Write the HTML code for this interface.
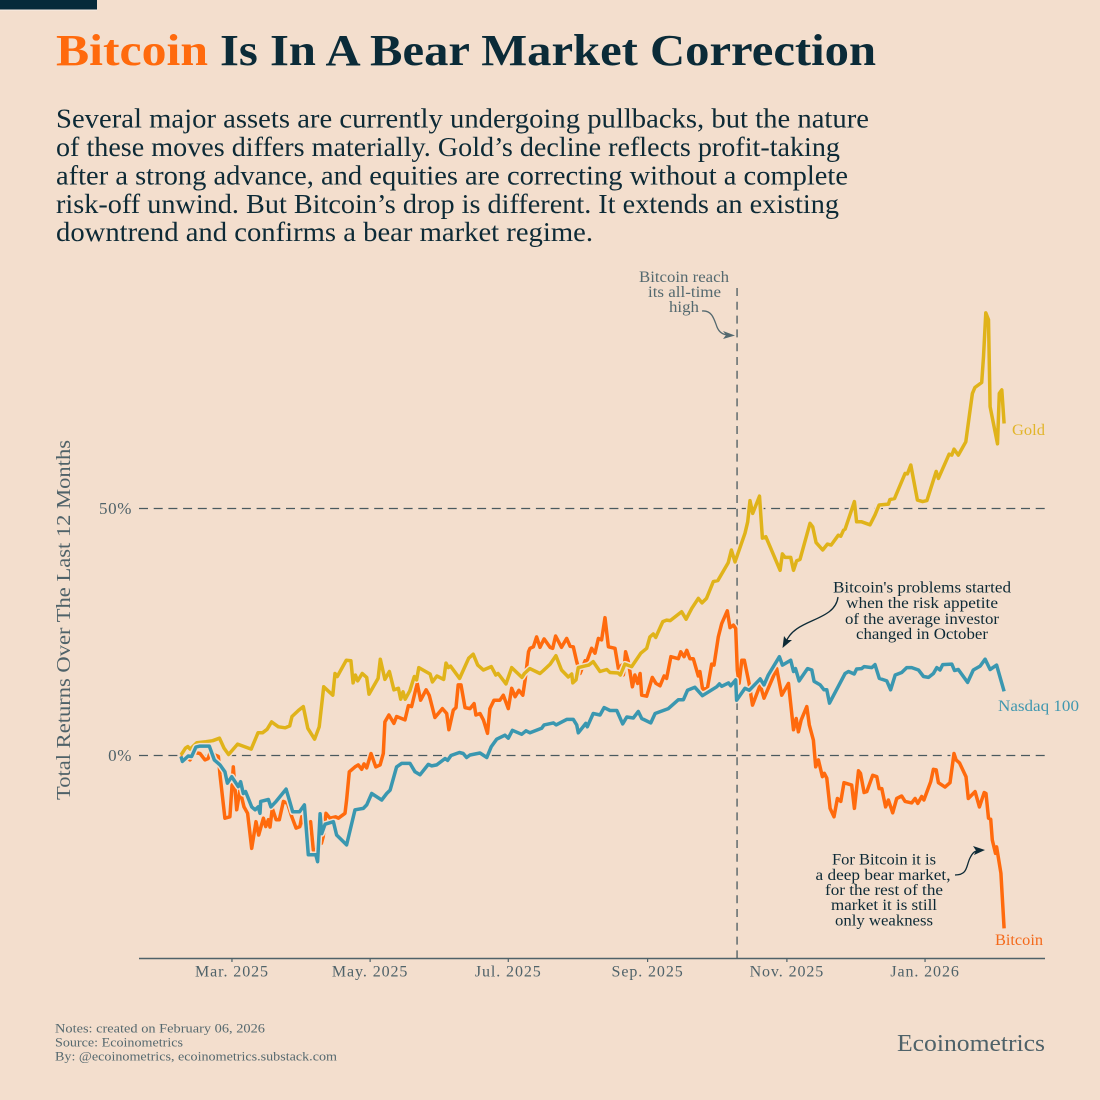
<!DOCTYPE html>
<html lang="en">
<head>
<meta charset="utf-8">
<title>Bitcoin Is In A Bear Market Correction</title>
<style>
html,body{margin:0;padding:0;background:#f3decd;}
svg{display:block;}
text{font-family:"Liberation Serif","DejaVu Serif",serif;}
</style>
</head>
<body>
<svg id="chart" xmlns="http://www.w3.org/2000/svg" width="1100" height="1100" viewBox="0 0 1100 1100">
  <rect x="0" y="0" width="1100" height="1100" fill="#f3decd"/>
  <rect x="0" y="0" width="97" height="9.5" fill="#062a3a"/>
  <rect x="0" y="9.5" width="97" height="1" fill="#f9efe5"/>

  <g font-size="44" font-weight="700">
    <text x="56" y="65" fill="#ff6a0d" textLength="152" lengthAdjust="spacingAndGlyphs">Bitcoin</text>
    <text x="220" y="65" fill="#0b2b38" textLength="656" lengthAdjust="spacingAndGlyphs">Is In A Bear Market Correction</text>
  </g>

  <g font-size="27" fill="#0d2a36">
    <text x="56" y="127.5" textLength="813" lengthAdjust="spacingAndGlyphs">Several major assets are currently undergoing pullbacks, but the nature</text>
    <text x="56" y="156" textLength="784" lengthAdjust="spacingAndGlyphs">of these moves differs materially. Gold’s decline reflects profit-taking</text>
    <text x="56" y="184.5" textLength="792" lengthAdjust="spacingAndGlyphs">after a strong advance, and equities are correcting without a complete</text>
    <text x="56" y="212.8" textLength="783" lengthAdjust="spacingAndGlyphs">risk-off unwind. But Bitcoin’s drop is different. It extends an existing</text>
    <text x="56" y="241" textLength="537" lengthAdjust="spacingAndGlyphs">downtrend and confirms a bear market regime.</text>
  </g>

  <text transform="translate(70,800) rotate(-90)" font-size="20" fill="#4f6269" textLength="360" lengthAdjust="spacingAndGlyphs">Total Returns Over The Last 12 Months</text>

  <g id="grid-layer"></g>
  <g id="axis-layer"></g>
  <g id="y-label-layer"></g>
  <g id="series-layer"></g>

  <g font-size="15.5">
    <text x="1012" y="435" fill="#e2b52a" textLength="33" lengthAdjust="spacingAndGlyphs">Gold</text>
    <text x="998" y="711" fill="#3f97af" textLength="81" lengthAdjust="spacingAndGlyphs">Nasdaq 100</text>
    <text x="995" y="945" fill="#f4691a" textLength="48" lengthAdjust="spacingAndGlyphs">Bitcoin</text>
  </g>

  <g font-size="15.5" fill="#54696f">
    <text x="639" y="282" textLength="90" lengthAdjust="spacingAndGlyphs">Bitcoin reach</text>
    <text x="648" y="297" textLength="73" lengthAdjust="spacingAndGlyphs">its all-time</text>
    <text x="669" y="312" textLength="30" lengthAdjust="spacingAndGlyphs">high</text>
    <path d="M702,311 C712,310 714,319 717,327 C719,332 723,335 729,335" fill="none" stroke="#54696f" stroke-width="1.3"/>
    <path d="M735,335.5 L723,331 L726,335 L723,339 Z" fill="#54696f"/>
  </g>

  <g font-size="15.5" fill="#0d2a36" text-anchor="middle">
    <text x="922" y="592.7" textLength="178" lengthAdjust="spacingAndGlyphs">Bitcoin's problems started</text>
    <text x="922" y="608" textLength="152" lengthAdjust="spacingAndGlyphs">when the risk appetite</text>
    <text x="922" y="624" textLength="154" lengthAdjust="spacingAndGlyphs">of the average investor</text>
    <text x="922" y="639" textLength="132" lengthAdjust="spacingAndGlyphs">changed in October</text>
    <path d="M838,597 C835,622 795,618 786,642" fill="none" stroke="#0d2a36" stroke-width="1.3"/>
    <path d="M782.5,648 L784,636 L787,640 L792,640 Z" fill="#0d2a36"/>
  </g>

  <g font-size="15.5" fill="#0d2a36" text-anchor="middle">
    <text x="884" y="864.3" textLength="104" lengthAdjust="spacingAndGlyphs">For Bitcoin it is</text>
    <text x="883" y="880" textLength="135" lengthAdjust="spacingAndGlyphs">a deep bear market,</text>
    <text x="884" y="895" textLength="118" lengthAdjust="spacingAndGlyphs">for the rest of the</text>
    <text x="884" y="910" textLength="106" lengthAdjust="spacingAndGlyphs">market it is still</text>
    <text x="884" y="925.7" textLength="98" lengthAdjust="spacingAndGlyphs">only weakness</text>
    <path d="M955,875 C968,875 966,866 970,858 C973,852 975,851 979,850.5" fill="none" stroke="#0d2a36" stroke-width="1.3"/>
    <path d="M985,850 L973,846 L976,850.5 L974,855 Z" fill="#0d2a36"/>
  </g>

  <g font-size="12.5" fill="#56696f">
    <text x="55" y="1032.7" textLength="210" lengthAdjust="spacingAndGlyphs">Notes: created on February 06, 2026</text>
    <text x="55" y="1046.7" textLength="128" lengthAdjust="spacingAndGlyphs">Source: Ecoinometrics</text>
    <text x="55" y="1060.7" textLength="282" lengthAdjust="spacingAndGlyphs">By: @ecoinometrics, ecoinometrics.substack.com</text>
  </g>
  <text x="897" y="1051" font-size="24" fill="#4f6269" textLength="148" lengthAdjust="spacingAndGlyphs">Ecoinometrics</text>
</svg>

<script>
// Days since Feb 6, 2025 for each traced vertex, and total 12-month return (%) at that vertex.
const goldDays = [
0,2,3,4,7,11,14,17,19,21,
25,31,34,36,38,40,43,46,48,49,
52,54,56,59,61,63,67,68,69,73,
75,76,77,78,80,82,83,87,88,90,
92,94,96,97,98,99,101,103,104,105,
108,110,111,113,116,117,118,119,123,127,
129,131,133.5,137,139,140,143.5,146,150.5,151.6,
154,158.5,160,163,165.5,168,171,172.5,173,174.4,
175.4,180,182,185,188,189.4,193,194,196,199,
203,205.6,207,208.5,209.6,212.7,214.4,216,221,223,
225.5,228.4,230,232,235,237,241.6,243,244.6,249,
250.2,251.2,252.4,255.4,256.7,258.2,264.5,265.5,266.7,269.2,
270.4,271.8,273.3,277.7,278.9,280.4,283.3,285.4,287,290.2,
291.3,292.5,293.2,297.3,298.3,300.5,304.2,306.4,308.2,312.3,
313,315,319.7,320.7,322.2,325.1,327.4,329.3,333.4,334.4,
339.1,340.3,341.3,343.2,346.5,348.1,349.4,350.5,353.5,354.3,
355.3,356.5,357.2,360.5,361.3,362.4,363.4];
const goldValues = [
0.1,1.5,1.8,1.3,2.6,2.8,3.0,3.5,1.5,0.2,
2.3,1.3,4.6,4.6,5.3,6.8,5.8,5.6,6.0,7.9,
9.2,9.9,5.5,3.3,5.8,13.9,12.2,16.6,16.0,19.3,
19.2,14.7,16.3,15.1,16.6,15.8,12.4,15.6,19.5,15.4,
17.0,13.3,13.6,11.4,12.9,11.4,13.1,16.0,15.3,17.8,
17.0,16.5,14.9,16.1,15.4,18.7,17.8,18.1,15.6,19.7,
20.5,18.3,17.3,18.0,16.3,16.6,14.5,17.8,15.8,16.6,
17.6,16.6,17.2,18.5,20.2,17.3,15.9,16.5,14.7,15.3,
17.8,18.3,19.0,17.0,17.4,16.8,16.7,16.3,18.5,18.0,
20.7,21.7,24.0,24.6,23.9,27.1,27.4,27.3,29.1,27.6,
29.8,31.8,30.9,31.8,35.2,35.4,39.0,41.6,39.2,45.0,
47.3,51.6,49.0,52.5,44,44.3,37.5,40.8,40.1,40.1,
37.5,39.4,39.7,47,46.3,43.1,41.6,42.8,42.6,44.6,
44.4,45.6,45.8,51.4,47.3,47.3,46.7,48.7,50.7,50.9,
51.8,52,57.1,57,58.8,51.7,51.4,51.6,57.5,56.1,
61,60.8,62,60.8,63.5,68.9,73.3,74.5,75.5,80.7,
89.6,88.2,70.6,63.1,73.3,74,67.2];

const bitcoinDays = [
0,2,4,6,8.4,10.6,12,13,15,16.5,
17.2,19.4,21.6,23.1,24.6,26,27.8,29.4,31.2,33.1,
34.3,36.4,37.4,38.6,39.3,40.3,42,43.4,45.2,47,
48.9,50.8,52.5,53.3,54.7,57.2,58.4,60,61,62,
62.8,64,65.8,68.3,69.5,72.4,73.1,74.3,76.8,78.3,
79.8,80.8,82,83.9,86,87.9,89.3,90,91.8,94,
95.2,98.9,100.4,101.8,104.3,105.8,108.2,109.6,112.1,115.4,
117.3,118.3,120.2,121.4,122.4,123.6,125.4,127.6,129.4,130.2,
132,133.5,135.3,136.4,138.2,140.8,142.3,144.5,146,147.5,
149.2,150.9,151.9,153.4,154.1,155.6,157,158.5,160.3,162.9,
164.1,165.4,168,170.3,171.8,173.2,174.7,176.2,178.4,179.1,
181.3,182.8,184.3,185.7,187.2,188.7,191.6,193.1,194.6,195.3,
196.3,197.5,199.3,200.4,201.6,202.7,203.4,205.6,208.1,209.7,
211.5,213.3,214.4,216.3,219.6,220.6,222.1,223.3,224.7,226.2,
228.4,229.1,230.3,232.4,234.3,235.3,237.2,238.7,241.2,242.4,
243.9,244.9,245.6,246.4,247.6,248.7,250.8,252.3,255.7,257.4,
261.5,263,265.2,268.2,270.4,271.6,272.6,273.8,276.3,277.4,
279.2,280.2,281.4,283.2,284,285.1,286.6,288.3,289.8,291.3,
292.7,296.1,297.3,299.1,300,301.6,302.8,305.4,307.2,308.2,
309.4,311.1,312.3,314.2,316,318.2,319.7,322.6,324.1,325.3,
327,328,331,332.2,333.4,334.4,337.3,339.5,341.3,342.2,
343.7,346.6,347.6,350.6,352.5,354.6,355.4,356.5,357.5,358.2,
359.6,360.1,362,363.4];
const bitcoinValues = [
0.1,-0.4,-0.9,0.6,0.4,-0.9,-0.6,0.8,0.1,-0.2,
-3.9,-12.7,-12.4,-2.3,-11,-7,-10.4,-11.7,-18.8,-13.4,
-16.1,-12.7,-14.4,-13,-14.5,-10.7,-13,-13,-9.3,-9.7,
-12.4,-14.7,-14.4,-12.4,-14.4,-13.4,-19.1,-19.1,-12.4,-17.8,
-16.4,-11.7,-12.7,-12.4,-12.7,-11.7,-9,-3.3,-2.3,-1.9,
-2.8,-1.7,-2.5,0.4,-2.3,-1.9,0.4,6.8,8.2,6.5,
7.9,7.2,10.1,9.9,14.6,11.2,13.3,12.2,7.7,9.5,
8.5,5.2,9.2,9.7,14.3,14.3,9.7,9.5,10.5,8.2,
8.5,7.2,4.5,9.5,11.2,11.2,12.2,9.5,13.6,11.9,
13.2,12.2,15.3,21,21.7,22,24,21.9,23.6,21.9,
21.7,24.2,21.9,23.7,22.1,22,19,16.6,19.2,19,
21.7,20.7,23.7,23.4,27.9,22,21.7,17.6,18.3,16.3,
21,19,13.9,16.3,14.6,16.6,12.2,12,15.8,14.6,
14.1,16.1,15.6,20,19.6,21,20,21.3,19.6,19.6,
16.1,17,13.4,13.6,18.5,18.3,24,26.7,29.3,25.9,
26.4,25.7,17.3,14.6,19.3,19.3,14.6,10.2,14.3,11.6,
16,17.6,12.2,14.6,5.2,7.5,4.8,7.2,9.9,6.2,
3.1,-2.3,-0.9,-4.3,-3.6,-4.6,-10.7,-12.4,-8.7,-9.3,
-5.5,-6,-10.7,-3.1,-3.6,-7.5,-7.3,-4,-4.3,-6.7,
-6.7,-10.4,-9,-11.6,-8.7,-8.2,-9.3,-9.6,-8.7,-9.7,
-8.3,-9,-5.3,-2.8,-2.9,-5.5,-6.4,-5.5,0.4,-0.9,
-1.5,-4.3,-8.7,-7.3,-10.4,-7.5,-7.7,-12.7,-12.9,-17.1,
-19.8,-18.5,-23.8,-35];

const nasdaqDays = [
0,0.6,3.2,4.7,6.6,8.4,12.5,14.7,17.2,19.4,
20.5,22.4,25.3,26.3,27.5,28.5,31.2,32.7,34.1,34.9,
35.2,38.6,39.7,42,46.4,47.8,49.3,52.3,54.5,56.2,
59.5,60.3,61.4,62.1,63.6,67.3,68.7,73.1,76.8,80.5,
82,84.2,88.6,90.8,92.3,95.2,97.4,101.1,103.3,105.5,
109.2,110.7,112.9,116.6,117.7,119.2,122.9,124.6,126.1,127.6,
132,135,137,139.4,143,144.5,146.3,150.4,152.3,154.1,
159.2,160.3,164.4,165.6,170.3,173.2,174.7,175.4,178.7,179.4,
182,185,186.8,189.4,192.4,195,196.8,199.7,201.9,203.4,
207.4,209.3,215.2,219.6,221.8,223.6,226.9,230.2,236.5,237.7,
238.7,241.7,242.7,244.9,245.3,249,250.9,255.7,257.4,259.3,
264.2,265.5,269.2,270.4,271.3,272.9,276.6,278.5,279.5,282.2,
283.9,285.1,286.3,293.2,294.7,297.2,298.3,300.5,301.6,305,
306.4,308.3,311.6,313.3,315.3,318.2,320.4,322.6,325.6,327.8,
330,332.2,333.7,335.1,336.3,340.3,341.5,343.2,347.3,349.8,
352.8,355,357.2,360.1,363.4];
const nasdaqValues = [
-0.2,-1.2,-0.1,-0.2,1.7,1.9,1.9,-0.9,-1.9,-3.3,
-5.6,-4.3,-6.3,-5.3,-7.7,-7.3,-10.4,-11,-10.4,-11.7,
-9.3,-8.9,-10.4,-9.3,-6.8,-9,-11.4,-11.4,-10,-20.1,
-20.1,-21.5,-11.8,-15.8,-13.9,-13.4,-16.1,-18.1,-11,-10.7,
-10,-7.7,-9,-7.7,-7,-2.3,-1.6,-1.6,-3.3,-3.9,
-1.8,-2.1,-1.9,-0.6,-1,0,0.6,0.4,-0.4,0.1,
0.5,-0.4,1.8,3.3,4.1,3.5,5.1,4.3,5,4.6,
5.5,6.2,6.6,6.2,7.3,7.3,6.2,4.6,6.5,5.8,
8.5,8.2,9.7,9.1,9.1,6.4,7.8,7.6,8.9,7.5,
6.6,8.5,9.5,11.3,11.3,13.2,13.8,12.1,13.9,14.5,
14,14.7,14.1,15.3,11.2,13.6,13.2,15.5,14.3,16.3,
20,18.3,19.3,17,17.6,15.1,17.6,17.3,15,14.3,
13.3,13.3,10.6,16.6,17,16.5,17.5,17.6,18,17.8,
18.4,15.6,15.1,13.3,16.3,16.8,17.8,17.8,17.3,16,
15.8,16.6,17.8,17.3,18.4,18.5,17.2,17.4,14.8,17.3,
18.1,19.5,17.4,18.3,13];

const xTickDays = [22.5,83.5,144.5,206,267.5,328.5];
const xTickLabels = ["Mar. 2025","May. 2025","Jul. 2025","Sep. 2025","Nov. 2025","Jan. 2026"];
const yTickValues = [0,50];
const yTickLabels = ["0%","50%"];
const athDay = [245.5];

const SVG_NS = "http://www.w3.org/2000/svg";
const AXIS_COLOR = "#4f6269";
const GRID_COLOR = "#4a5a5f";
const BG = "#f3decd";
function xScale(day){ return 181 + 2.265 * day; }
function yScale(value){ return 755.5 - 4.94 * value; }
function make(tag, attrs){
  const el = document.createElementNS(SVG_NS, tag);
  for (const k in attrs) el.setAttribute(k, attrs[k]);
  return el;
}
const gridLayer = document.getElementById("grid-layer");
const axisLayer = document.getElementById("axis-layer");
const yLabelLayer = document.getElementById("y-label-layer");
const seriesLayer = document.getElementById("series-layer");

yTickValues.forEach(function(v, i){
  const gy = yScale(v);
  const line = make("line", {x1:139, x2:1045, y1:gy, y2:gy, stroke:GRID_COLOR, "stroke-width":1.3, "stroke-dasharray":"9 5.7"});
  
  
  gridLayer.appendChild(line);
  const label = make("text", {x:132, y:gy + 5.5, "text-anchor":"end", "font-size":17, "letter-spacing":0.6, fill:AXIS_COLOR});
  
  
  label.textContent = yTickLabels[i];
  yLabelLayer.appendChild(label);
});

athDay.forEach(function(d){
  const vx = xScale(d);
  const vline = make("line", {x1:vx, x2:vx, y1:288, y2:958, stroke:GRID_COLOR, "stroke-width":1.3, "stroke-dasharray":"8 5.8"});
  
  
  gridLayer.appendChild(vline);
});

const axisLine = make("line", {x1:139, x2:1045, y1:958.5, y2:958.5, stroke:AXIS_COLOR, "stroke-width":1.5});


axisLayer.appendChild(axisLine);

xTickDays.forEach(function(d, i){
  const tx = xScale(d);
  const tick = make("line", {x1:tx, x2:tx, y1:958.5, y2:962, stroke:AXIS_COLOR, "stroke-width":1.2});
  
  
  axisLayer.appendChild(tick);
  const label = make("text", {x:tx, y:976.7, "text-anchor":"middle", "font-size":16, "letter-spacing":0.9, fill:AXIS_COLOR});
  
  
  label.textContent = xTickLabels[i];
  axisLayer.appendChild(label);
});

function drawSeries(name, days, values, color){
  const pts = days.map(function(d, i){
    return xScale(d).toFixed(1) + "," + yScale(values[i]).toFixed(1);
  }).join(" ");
  const halo = make("polyline", {points:pts, fill:"none", stroke:BG, "stroke-width":6.5, "stroke-linejoin":"round"});
  
  
  seriesLayer.appendChild(halo);
  const line = make("polyline", {points:pts, fill:"none", stroke:color, "stroke-width":3.5, "stroke-linejoin":"round"});
  
  
  seriesLayer.appendChild(line);
}
drawSeries("bitcoin", bitcoinDays, bitcoinValues, "#ff6a0d");
drawSeries("gold", goldDays, goldValues, "#e0b31a");
drawSeries("nasdaq", nasdaqDays, nasdaqValues, "#3a97b0");
</script>
</body>
</html>
